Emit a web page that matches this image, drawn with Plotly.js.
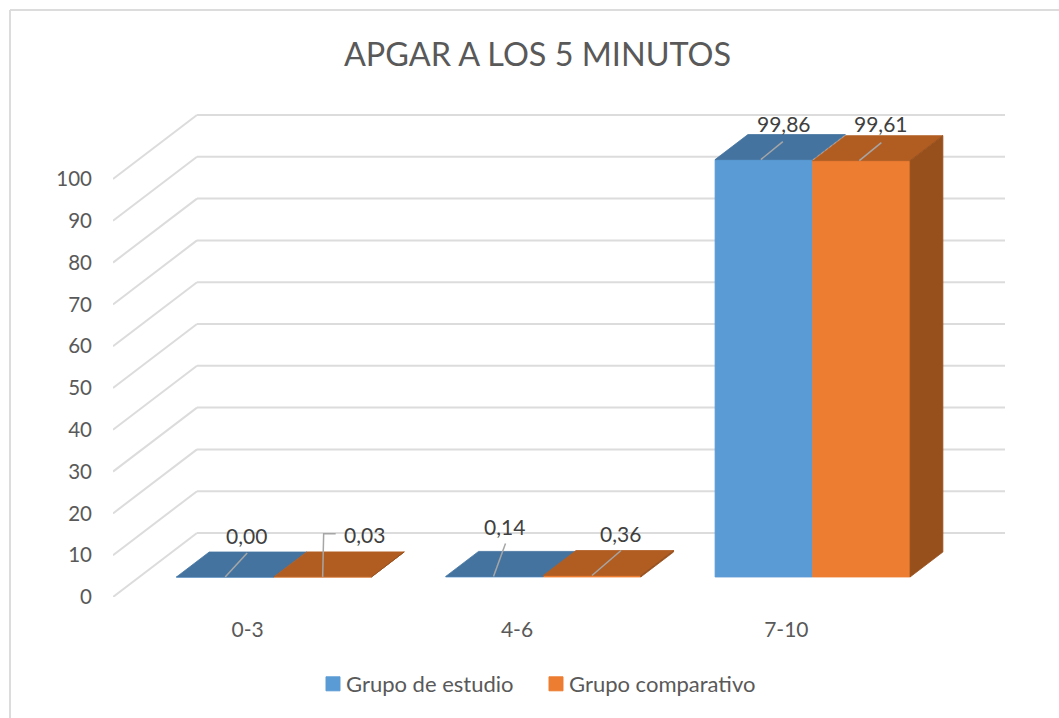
<!DOCTYPE html>
<html>
<head>
<meta charset="utf-8">
<script src="https://cdn.plot.ly/plotly-3.0.1.min.js"></script>
<style>html,body{margin:0;padding:0;background:#fff}</style>
</head>
<body>
<div id="chart" style="width:1059px;height:718px"></div>
<script>
// ---- data ----
const categories = ['0-3', '4-6', '7-10'];
const grupoEstudio = [0.00, 0.14, 99.86];
const grupoComparativo = [0.03, 0.36, 99.61];
const seriesNames = ['Grupo de estudio', 'Grupo comparativo'];
const yTicks = [0, 10, 20, 30, 40, 50, 60, 70, 80, 90, 100];
const chartTitle = 'APGAR A LOS 5 MINUTOS';

// ---- style / geometry ----
const W = 1059, H = 718;
const L = 113, R = 1005, T = 108, B = 597;      // plot box, px
const catPx = 269.33, valPx = 4.18;             // px per category, px per value unit
const wallDx = 84 / catPx, wallDv = 64 / valPx; // oblique offset of the back wall
const dFront = 0.3125, dBack = 0.703;           // bar depth, fraction of the floor
const barW = 97.5 / catPx;
const frontCol = ['#5B9BD5', '#ED7D31'];
const topCol = ['#44739F', '#B15D22'];
const sideCol = '#974F1C';
const gridCol = '#DCDCDC', leaderCol = '#A6A6A6', textCol = '#595959', labelCol = '#404040';
const font = 'Lato, Carlito, Calibri, sans-serif';
// data label placement relative to the front-top centre of each bar, px (right, up)
const labelShift = [[[21, 42], [42, 42]], [[10, 50], [28, 42]], [[20, 36], [20, 37]]];
const leaderShift = [
  [[[0, 0], [22, 24]], [[0, 0], [1, 43], [13, 43]]],
  [[[-1, 0], [11, 33]], [[0, 0], [29, 25]]],
  [[[-3, 0], [19, 18]], [[-2, 0], [20, 18]]]
];

const series = [grupoEstudio, grupoComparativo];
const barCentre = (c, s) => c + dFront * wallDx + (s - 0.5) * barW;
const baseV = dFront * wallDv;

const traces = [];
// front faces: real bars, also the legend entries
series.forEach((vals, s) => traces.push({
  type: 'bar', name: seriesNames[s],
  x: categories.map((_, c) => barCentre(c, s)),
  y: vals, base: vals.map(() => baseV), width: barW,
  marker: {color: frontCol[s], line: {width: 0.8, color: frontCol[s]}},
  hoverinfo: 'skip', cliponaxis: false
}));
// top and side faces, derived from the values
const ddx = (dBack - dFront) * wallDx, ddv = (dBack - dFront) * wallDv;
const poly = (xs, ys, col) => traces.push({
  type: 'scatter', mode: 'lines', x: xs, y: ys, fill: 'toself', fillcolor: col,
  line: {width: 0.8, color: col}, showlegend: false, hoverinfo: 'skip', cliponaxis: false
});
series.forEach((vals, s) => vals.forEach((v, c) => {
  const x0 = barCentre(c, s) - barW / 2, x1 = x0 + barW, y = baseV + v;
  poly([x0, x1, x1 + ddx, x0 + ddx, x0], [y, y, y + ddv, y + ddv, y], topCol[s]);
  if (s === 1) poly([x1, x1 + ddx, x1 + ddx, x1, x1],
                    [baseV, baseV + ddv, y + ddv, y, baseV], sideCol);
}));
// leader lines and data labels
const annotations = [];
series.forEach((vals, s) => vals.forEach((v, c) => {
  const ax = barCentre(c, s), ay = baseV + v;
  traces.push({
    type: 'scatter', mode: 'lines',
    x: leaderShift[c][s].map(p => ax + p[0] / catPx),
    y: leaderShift[c][s].map(p => ay + p[1] / valPx),
    line: {color: leaderCol, width: 1.5}, showlegend: false, hoverinfo: 'skip', cliponaxis: false
  });
  annotations.push({
    xref: 'x', yref: 'y', x: ax, y: ay, showarrow: false,
    xshift: labelShift[c][s][0], yshift: labelShift[c][s][1],
    xanchor: 'center', yanchor: 'middle',
    text: v.toFixed(2).replace('.', ','),
    font: {family: font, size: 21, color: labelCol}
  });
}));

// oblique gridlines: side wall then back wall
const x0 = -0.5, xEnd = x0 + (R - L) / catPx;
const shapes = [];
const seg = (a, b, c, d) => shapes.push({
  type: 'line', xref: 'x', yref: 'y', x0: a, y0: b, x1: c, y1: d, layer: 'below',
  line: {color: gridCol, width: 2}
});
yTicks.forEach(t => {
  seg(x0, t, x0 + wallDx, t + wallDv);
  seg(x0 + wallDx, t + wallDv, xEnd, t + wallDv);
});
// chart frame: only its left and top edges are in view
const px = p => (p - L) / (R - L), py = p => (B - p) / (B - T);
[[10, 10, W, 10], [10, 10, 10, H]].forEach(f => shapes.push({
  type: 'line', xref: 'paper', yref: 'paper',
  x0: px(f[0]), y0: py(f[1]), x1: px(f[2]), y1: py(f[3]),
  line: {color: '#DCDCDC', width: 2}
}));

const layout = {
  width: W, height: H,
  margin: {l: L, r: W - R, t: T, b: H - B, pad: 0, autoexpand: false},
  paper_bgcolor: '#fff', plot_bgcolor: 'rgba(0,0,0,0)',
  barmode: 'overlay', hovermode: false,
  title: {text: chartTitle, x: 537.5 / W, xref: 'container', xanchor: 'center',
          y: 1 - 55 / H, yref: 'container', yanchor: 'middle',
          font: {family: font, size: 32.4, color: textCol}},
  xaxis: {range: [x0, xEnd], tickmode: 'array', tickvals: categories.map((_, i) => i),
          ticktext: categories, showgrid: false, zeroline: false, showline: false,
          ticks: '', ticklabelstandoff: 18, tickfont: {family: font, size: 21, color: textCol}},
  yaxis: {range: [0, (B - T) / valPx], tickmode: 'array', tickvals: yTicks,
          showgrid: false, zeroline: false, showline: false,
          ticks: '', ticklabelstandoff: 20, tickfont: {family: font, size: 20.5, color: textCol}},
  legend: {orientation: 'h', x: px(306), xanchor: 'left', y: py(684), yanchor: 'middle',
           entrywidth: 178, entrywidthmode: 'pixels', itemclick: false, itemdoubleclick: false,
           traceorder: 'normal', bgcolor: 'rgba(0,0,0,0)',
           font: {family: font, size: 22, color: textCol}},
  shapes: shapes, annotations: annotations, showlegend: true
};
Plotly.newPlot('chart', traces, layout, {displayModeBar: false, responsive: false, staticPlot: true})
  .then(gd => {
    // legend keys sit closer to their text, and are slightly larger, than Plotly's default
    gd.querySelectorAll('.legend .legendsymbols').forEach(g =>
      g.setAttribute('transform', 'translate(3.6,0) scale(1.17)'));
    // the fixed entry width must not cut off the longer series name
    gd.querySelectorAll('.legend .scrollbox, .legend .groups, .legend .traces').forEach(g =>
      g.removeAttribute('clip-path'));
    gd.querySelectorAll('.legend [clip-path]').forEach(g => g.removeAttribute('clip-path'));
  });
</script>
</body>
</html>
